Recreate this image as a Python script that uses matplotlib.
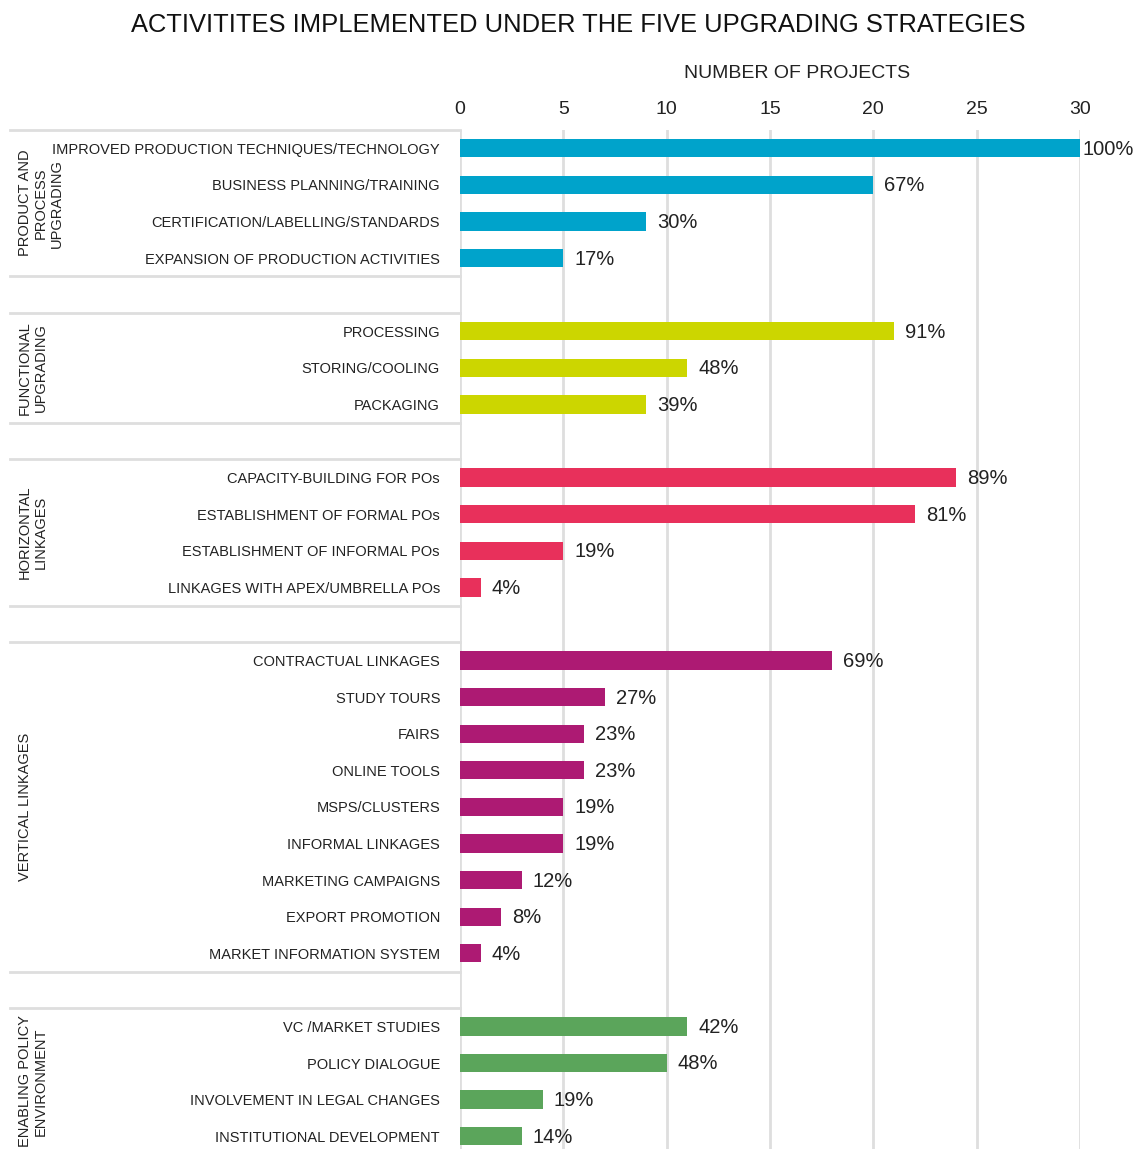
import matplotlib
matplotlib.use("Agg")
import matplotlib.pyplot as plt
import matplotlib.transforms as mtransforms

plt.rcParams['font.family'] = ['Liberation Sans', 'DejaVu Sans']

group_names = ["PRODUCT AND\nPROCESS\nUPGRADING", "FUNCTIONAL\nUPGRADING",
               "HORIZONTAL\nLINKAGES", "VERTICAL LINKAGES",
               "ENABLING POLICY\nENVIRONMENT"]
group_colors = ["#00A3CB", "#CCD600", "#E8305B", "#AD1A73", "#5BA55B"]

activities = [
    ["IMPROVED PRODUCTION TECHNIQUES/TECHNOLOGY", "BUSINESS PLANNING/TRAINING",
     "CERTIFICATION/LABELLING/STANDARDS", "EXPANSION OF PRODUCTION ACTIVITIES"],
    ["PROCESSING", "STORING/COOLING", "PACKAGING"],
    ["CAPACITY-BUILDING FOR POs", "ESTABLISHMENT OF FORMAL POs",
     "ESTABLISHMENT OF INFORMAL POs", "LINKAGES WITH APEX/UMBRELLA POs"],
    ["CONTRACTUAL LINKAGES", "STUDY TOURS", "FAIRS", "ONLINE TOOLS", "MSPS/CLUSTERS",
     "INFORMAL LINKAGES", "MARKETING CAMPAIGNS", "EXPORT PROMOTION",
     "MARKET INFORMATION SYSTEM"],
    ["VC /MARKET STUDIES", "POLICY DIALOGUE", "INVOLVEMENT IN LEGAL CHANGES",
     "INSTITUTIONAL DEVELOPMENT"],
]
projects = [
    [30, 20, 9, 5],
    [21, 11, 9],
    [24, 22, 5, 1],
    [18, 7, 6, 6, 5, 5, 3, 2, 1],
    [11, 10, 4, 3],
]
shares = [
    ["100%", "67%", "30%", "17%"],
    ["91%", "48%", "39%"],
    ["89%", "81%", "19%", "4%"],
    ["69%", "27%", "23%", "23%", "19%", "19%", "12%", "8%", "4%"],
    ["42%", "48%", "19%", "14%"],
]
xticks = [0, 5, 10, 15, 20, 25, 30]

W, H = 1136, 1149
fig = plt.figure(figsize=(W / 100, H / 100), dpi=100)
ax = fig.add_axes([460 / W, 0, 620 / W, (H - 130) / H])

text_color = "#222222"
grid_color = "#DEDEDE"

# layout rows: one empty row between groups
rows, names = [], []
row = 0
group_rows = []
for g, acts in enumerate(activities):
    r = list(range(row, row + len(acts)))
    group_rows.append(r)
    for i, a in enumerate(acts):
        ax.barh(r[i], projects[g][i], height=0.5, color=group_colors[g], zorder=3)
        pad = 2 if projects[g][i] >= xticks[-1] else 11
        ax.annotate(shares[g][i], (projects[g][i], r[i]), xytext=(pad * 0.72, -0.7),
                    textcoords="offset points", va="center", ha="left",
                    fontsize=14.5, color=text_color, annotation_clip=False)
    rows += r
    names += acts
    row += len(acts) + 1

ax.set_xlim(0, 30)
ax.set_ylim(27.35, -0.5)
ax.set_xticks(xticks)
ax.xaxis.tick_top()
ax.tick_params(axis="x", length=0, labelsize=14, labelcolor=text_color, pad=8.5)
ax.set_yticks(rows)
ax.set_yticklabels(names)
ax.tick_params(axis="y", length=0, labelsize=10.5, labelcolor=text_color, pad=14.4)
ax.grid(axis="x", color=grid_color, linewidth=2, zorder=0)
for s in ax.spines.values():
    s.set_visible(False)

fig.text(797 / W, 1 - 74 / H, "NUMBER OF PROJECTS", ha="center", va="center",
         fontsize=14, color=text_color)

# separators and group labels in the label area
trans = mtransforms.blended_transform_factory(fig.transFigure, ax.transData)
for g, r in enumerate(group_rows):
    for yb in (r[0] - 0.5, r[-1] + 0.5):
        ax.plot([10 / W, 460 / W], [yb, yb], transform=trans, color=grid_color,
                linewidth=2, clip_on=False, zorder=1)
    ax.text(18 / W, (r[0] + r[-1]) / 2, group_names[g], transform=trans, rotation=90,
            ha="left", va="center", multialignment="center", fontsize=10.5,
            color=text_color, linespacing=1.18)

fig.text(0.5 * (133 + 1023) / W, 1 - 25 / H,
         "ACTIVITITES IMPLEMENTED UNDER THE FIVE UPGRADING STRATEGIES",
         ha="center", va="center", fontsize=18.4, color="#111111")

fig.savefig("out.png", dpi=100)
